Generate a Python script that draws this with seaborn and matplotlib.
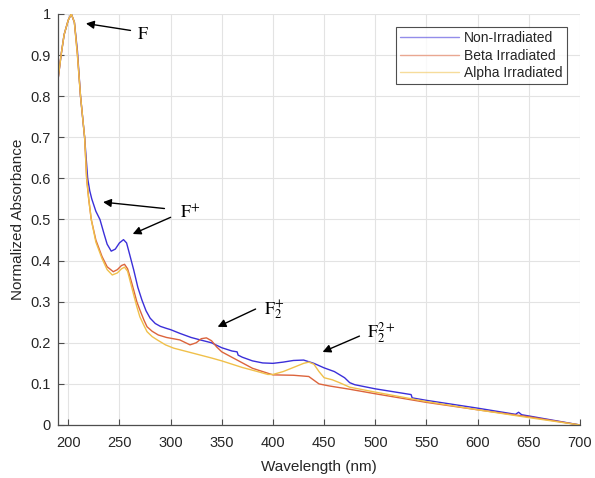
import matplotlib
matplotlib.use("Agg")
import matplotlib.pyplot as plt
import seaborn as sns
import pandas as pd

# ---------------- data ----------------
nonirr_wl = [190, 193, 196, 200, 203, 206, 209, 212, 216, 219, 221, 223, 227, 231, 235, 238,
             242, 246, 250, 254, 257, 260, 264, 268, 272, 276, 280, 285, 290, 296, 300, 309,
             320, 329, 340, 350, 360, 365, 366, 370, 380, 390, 400, 410, 420, 430, 440, 450,
             460, 470, 475, 480, 500, 520, 535, 536, 550, 600, 637, 640, 643, 650, 700]
nonirr_abs = [0.84, 0.9, 0.95, 0.985, 1.0, 0.98, 0.91, 0.8, 0.7, 0.6, 0.57, 0.55, 0.52, 0.5,
              0.465, 0.44, 0.423, 0.428, 0.443, 0.451, 0.443, 0.415, 0.377, 0.335, 0.304,
              0.278, 0.26, 0.247, 0.24, 0.235, 0.232, 0.223, 0.213, 0.207, 0.2, 0.188, 0.18,
              0.178, 0.17, 0.165, 0.156, 0.151, 0.15, 0.153, 0.157, 0.158, 0.15, 0.139, 0.13,
              0.115, 0.103, 0.098, 0.088, 0.08, 0.074, 0.066, 0.06, 0.041, 0.026, 0.031,
              0.025, 0.022, 0.0]

beta_wl = [190, 193, 196, 200, 203, 206, 209, 212, 216, 218, 220, 222.5, 227, 233, 238, 244,
           248, 252, 255, 258, 261, 264, 267, 270, 274, 277, 282, 288, 296, 309, 319, 325, 330,
           335, 340, 345, 350, 365, 380, 400, 420, 435, 445, 455, 475, 500, 550, 600, 650, 700]
beta_abs = [0.84, 0.9, 0.95, 0.985, 1.0, 0.98, 0.9, 0.8, 0.7, 0.6, 0.55, 0.5, 0.45, 0.41,
            0.385, 0.373, 0.378, 0.388, 0.391, 0.38, 0.355, 0.328, 0.3, 0.28, 0.255, 0.239,
            0.228, 0.219, 0.213, 0.207, 0.195, 0.2, 0.21, 0.212, 0.205, 0.19, 0.178, 0.158,
            0.138, 0.122, 0.121, 0.118, 0.1, 0.095, 0.087, 0.076, 0.055, 0.037, 0.02, 0.0]

alpha_wl = [190, 193, 196, 200, 203, 206, 209, 212, 216, 218, 220, 222.5, 227, 233, 238, 243,
            248, 252, 255, 258, 261, 264, 267, 270, 274, 277, 282, 287, 295, 303, 320, 340, 350,
            370, 385, 395, 400, 410, 420, 430, 435, 440, 445, 450, 458, 465, 475, 500, 550,
            600, 650, 700]
alpha_abs = [0.84, 0.9, 0.95, 0.985, 1.0, 0.98, 0.9, 0.8, 0.7, 0.6, 0.55, 0.5, 0.445, 0.405,
             0.378, 0.365, 0.37, 0.38, 0.384, 0.374, 0.345, 0.316, 0.288, 0.263, 0.242, 0.227,
             0.215, 0.207, 0.195, 0.187, 0.176, 0.163, 0.156, 0.14, 0.13, 0.123, 0.123, 0.13,
             0.14, 0.15, 0.153, 0.148, 0.13, 0.115, 0.11, 0.103, 0.092, 0.08, 0.057, 0.037,
             0.018, 0.0]

series_names = ["Non-Irradiated", "Beta Irradiated", "Alpha Irradiated"]
x_ticks = [200, 250, 300, 350, 400, 450, 500, 550, 600, 650, 700]
y_ticks = [0, 0.1, 0.2, 0.3, 0.4, 0.5, 0.6, 0.7, 0.8, 0.9, 1]
y_tick_labels = ["0", "0.1", "0.2", "0.3", "0.4", "0.5", "0.6", "0.7", "0.8", "0.9", "1"]

# ---------------- build table ----------------
frames = []
for name, wl, ab in zip(series_names, [nonirr_wl, beta_wl, alpha_wl],
                        [nonirr_abs, beta_abs, alpha_abs]):
    frames.append(pd.DataFrame({"wl": wl, "abs": ab, "series": name}))
df = pd.concat(frames, ignore_index=True)

sns.set_style("whitegrid")
plt.rcParams["font.family"] = ["Liberation Sans", "DejaVu Sans"]
plt.rcParams["mathtext.fontset"] = "stix"

palette = {"Non-Irradiated": "#3b2fd9", "Beta Irradiated": "#dc643c",
           "Alpha Irradiated": "#f0c04a"}

fig = plt.figure(figsize=(5.95, 4.78), dpi=100)
ax = fig.add_axes([58 / 595, 53 / 478, 522 / 595, 411 / 478])

sns.lineplot(data=df, x="wl", y="abs", hue="series", palette=palette, estimator=None,
             sort=False, linewidth=1.0, ax=ax, legend=True)

ax.set_xlim(190, 700)
ax.set_ylim(0, 1)
ax.set_xticks(x_ticks)
ax.set_yticks(y_ticks)
ax.set_yticklabels(y_tick_labels)
ax.grid(True, color="#e3e3e3", linewidth=0.8)
for s in ["top", "right"]:
    ax.spines[s].set_visible(False)
for s in ["left", "bottom"]:
    ax.spines[s].set_color("#4d4d4d")
    ax.spines[s].set_linewidth(0.9)
ax.tick_params(axis="both", direction="in", length=4, width=0.8, color="#4d4d4d",
               labelsize=10.5, labelcolor="#262626")
ax.tick_params(axis="x", bottom=True, pad=8)
ax.tick_params(axis="y", left=True, pad=5)
ax.set_xlabel("Wavelength (nm)", fontsize=11, color="#262626", labelpad=7)
ax.set_ylabel("Normalized Absorbance", fontsize=11, color="#262626", labelpad=4)

leg = ax.legend(loc="upper right", bbox_to_anchor=(0.975, 0.968), borderaxespad=0,
                frameon=True, fancybox=False, fontsize=10, handlelength=4.2,
                handletextpad=0.4, borderpad=0.3, labelspacing=0.25)
leg.get_frame().set_edgecolor("#222222")
leg.get_frame().set_linewidth(0.8)
for line in leg.get_lines():
    line.set_alpha(0.55)
    line.set_linewidth(1.0)

arrow = dict(arrowstyle="-|>", color="black", lw=1.0, mutation_scale=12)
tfont = dict(fontsize=13, family="Liberation Serif", color="black", ha="center", va="center")

ax.annotate("", xy=(214.6, 0.978), xytext=(263.5, 0.959), arrowprops=arrow)
ax.text(273, 0.949, r"$\mathrm{F}$", **tfont)

ax.annotate("", xy=(231.3, 0.543), xytext=(296.7, 0.526), arrowprops=arrow)
ax.annotate("", xy=(260.5, 0.462), xytext=(302.5, 0.508), arrowprops=arrow)
ax.text(319, 0.515, r"$\mathrm{F}^{+}$", **tfont)

ax.annotate("", xy=(343.5, 0.236), xytext=(385.5, 0.285), arrowprops=arrow)
ax.text(401, 0.28, r"$\mathrm{F}_{2}^{+}$", **tfont)

ax.annotate("", xy=(446, 0.175), xytext=(487, 0.219), arrowprops=arrow)
ax.text(506, 0.224, r"$\mathrm{F}_{2}^{2+}$", **tfont)

fig.savefig("out.png", dpi=100)
